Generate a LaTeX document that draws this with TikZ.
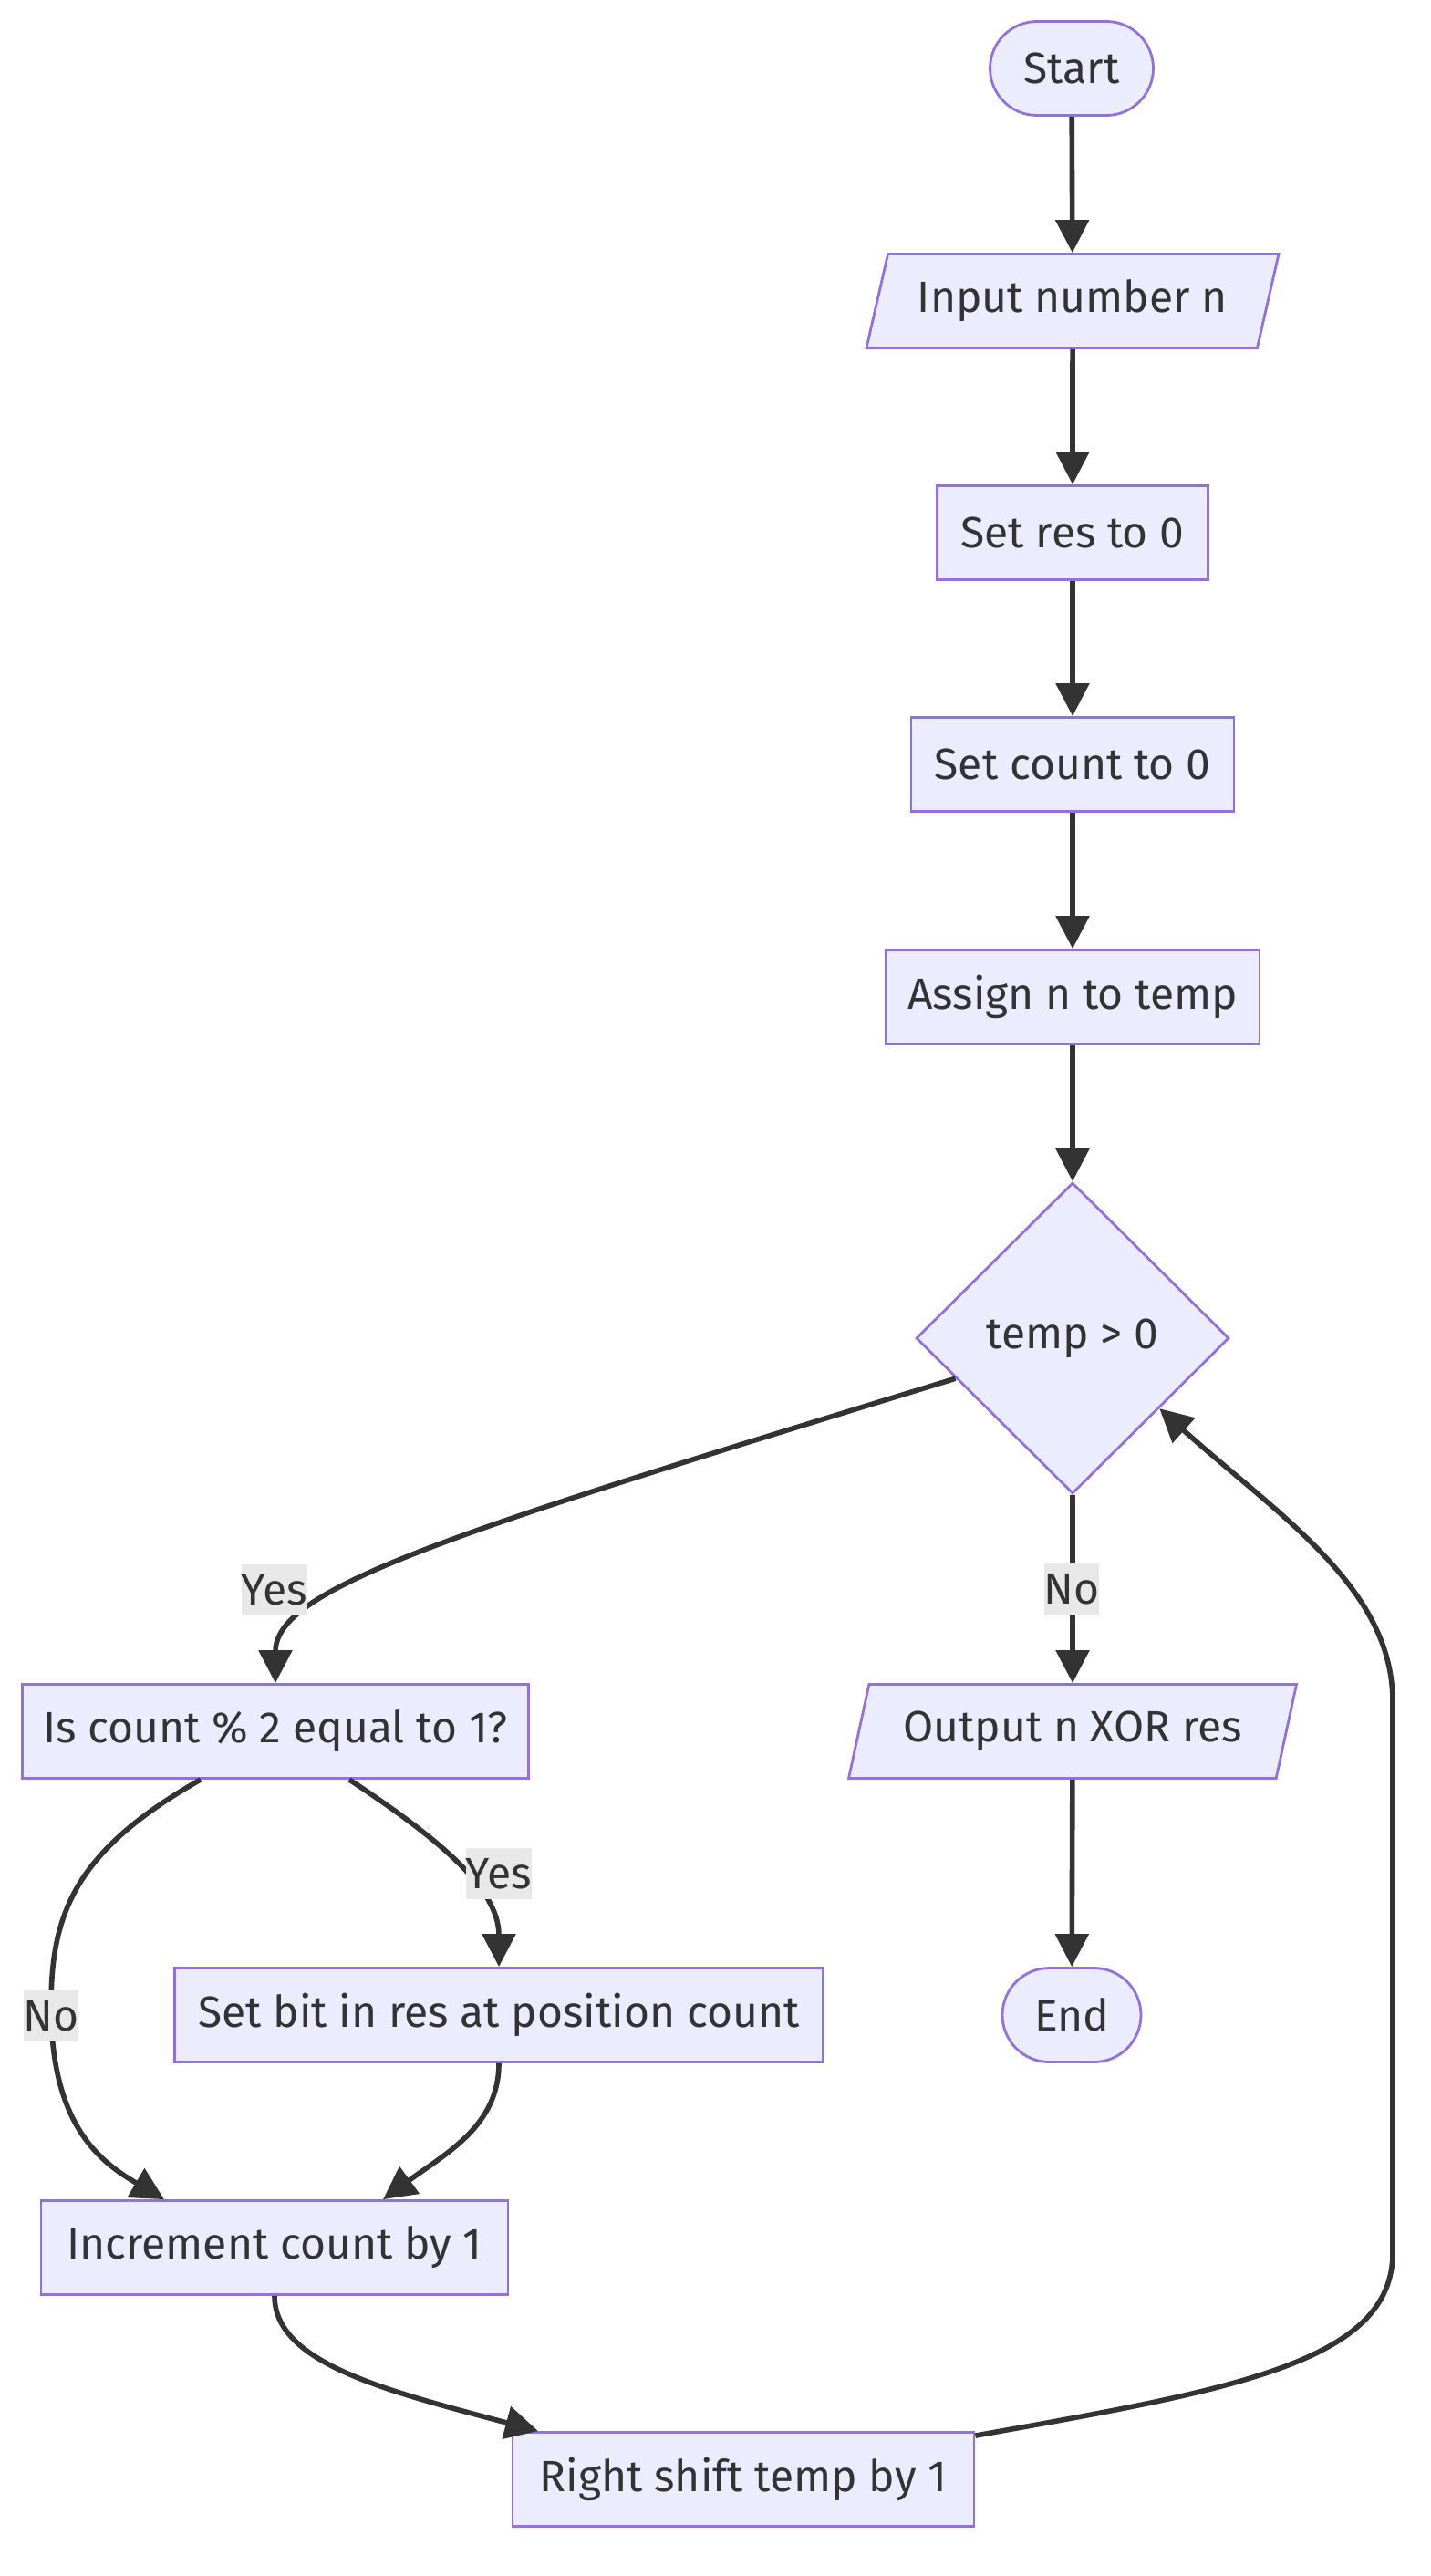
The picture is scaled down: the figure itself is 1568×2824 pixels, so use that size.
\documentclass[tikz,border=0pt]{standalone}
\usepackage{fontspec}
\setmainfont{Fira Sans}
\usetikzlibrary{arrows.meta,calc,shapes.geometric}
\definecolor{mmfill}{RGB}{236,236,255}
\definecolor{mmline}{RGB}{147,112,219}
\definecolor{mmtext}{RGB}{51,51,51}
\definecolor{mmlabel}{RGB}{232,232,232}
\tikzset{
  box/.style={draw=mmline,fill=mmfill,line width=1.4pt,minimum height=51.5pt,inner sep=0pt,text=mmtext},
  term/.style={box,rounded corners=25.75pt},
  io/.style={box,trapezium,trapezium left angle=63,trapezium right angle=117,trapezium stretches body},
  test/.style={box,diamond,aspect=1},
  lbl/.style={fill=mmlabel,text=mmtext,inner xsep=0pt,inner ysep=2pt,minimum height=28pt},
  flow/.style={->,draw=mmtext,line width=2.8pt}
}
\begin{document}
\begin{tikzpicture}[x=.5pt,y=-.5pt,font=\fontsize{24}{29}\selectfont,>={Triangle[length=18pt,width=18pt]}]
    \useasboundingbox (0,0) rectangle (1568,2824);
    \node[term,minimum width=89.5pt] (start) at (1175,75) {Start};
    \node[io,minimum width=226pt] (input) at (1176,330) {Input number n};
    \node[box,minimum width=148.5pt] (setres) at (1176,584) {Set res to 0};
    \node[box,minimum width=177pt] (setcount) at (1176,838) {Set count to 0};
    \node[box,minimum width=205pt] (assign) at (1176,1093) {Assign n to temp};
    \node[test,minimum width=171.5pt,minimum height=170.5pt] (check) at (1176,1467) {temp > 0};
    \node[box,minimum width=277.5pt] (parity) at (302,1898) {Is count \% 2 equal to 1?};
    \node[io,minimum width=245.5pt] (output) at (1176,1898) {Output n XOR res};
    \node[box,minimum width=355.5pt] (setbit) at (547,2209) {Set bit in res at position count};
    \node[term,minimum width=76pt] (stop) at (1175,2209) {End};
    \node[box,minimum width=256pt] (incr) at (301,2464) {Increment count by 1};
    \node[box,minimum width=253pt] (shift) at (815,2718) {Right shift temp by 1};
    \draw[flow] (start) -- (input);
    \draw[flow] (input) -- (setres);
    \draw[flow] (setres) -- (setcount);
    \draw[flow] (setcount) -- (assign);
    \draw[flow] (assign) -- (check);
    \draw[flow] (check.199) .. controls (500,1679) and (302,1740) .. (parity.north);
    \draw[flow] (check) -- (output);
    \draw[flow] (output) -- (stop);
    \draw[flow] ([xshift=40.5pt]parity.south) .. controls (480,2015) and (547,2070) .. (setbit.north);
    \draw[flow] ([xshift=-41pt]parity.south) .. controls (80,2030) and (56,2100) .. (56,2200)
      .. controls (56,2330) and (110,2370) .. ([xshift=-60.5pt]incr.north);
    \draw[flow] (setbit.south) .. controls (547,2330) and (490,2360) .. ([xshift=59.5pt]incr.north);
    \draw[flow] (incr.south) .. controls (301,2590) and (420,2620) .. ([xshift=-112.5pt]shift.north);
    \draw[flow] ([yshift=-2.5pt]shift.north east) .. controls (1350,2620) and (1527,2590) .. (1527,2470)
      -- (1527,1865) .. controls (1527,1740) and (1400,1660) .. (check.-39);
    \node[lbl] (yes1) at (301,1743) {Yes};
    \node[lbl] (no1) at (1175,1742) {No};
    \node[lbl] (yes2) at (547,2054) {Yes};
    \node[lbl] (no2) at (56,2210) {No};
\end{tikzpicture}
\end{document}
